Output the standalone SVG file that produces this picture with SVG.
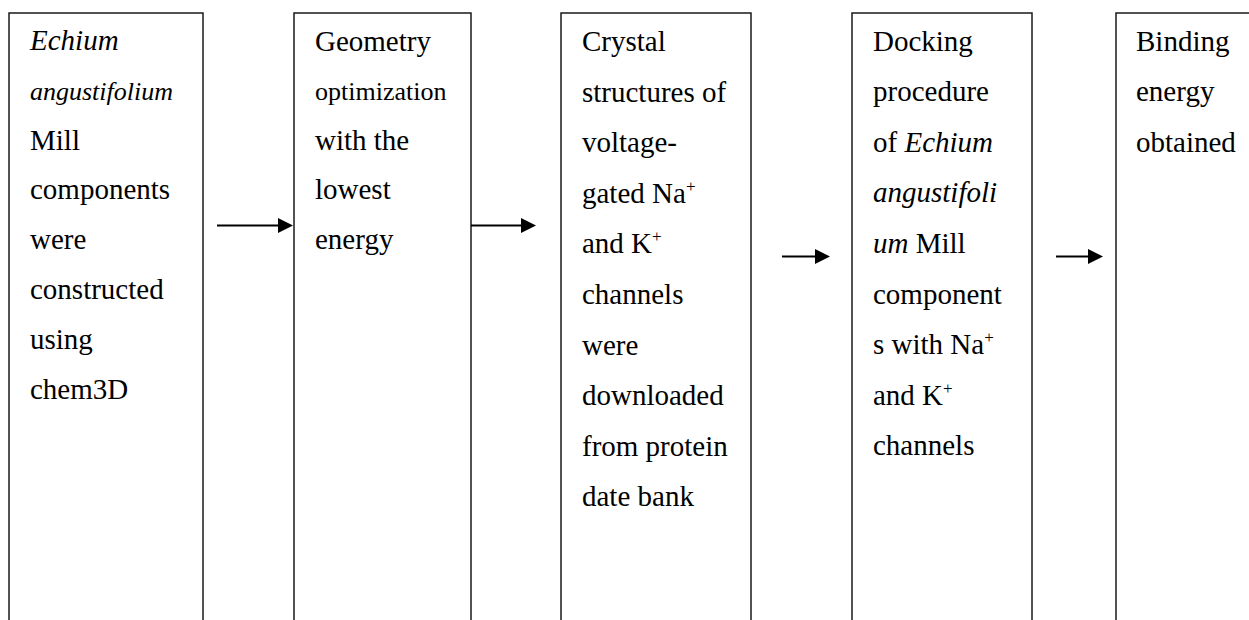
<svg xmlns="http://www.w3.org/2000/svg" width="1249" height="620" viewBox="0 0 1249 620">
  <style>
    .box { fill: #ffffff; stroke: #1a1a1a; stroke-width: 1.5; }
    .t { font-family: "Liberation Serif", "Times New Roman", serif; font-size: 29px; fill: #000000; }
    .small { font-size: 26px; }
    .i { font-style: italic; }
    .sup { font-size: 17px; }
    .conn { stroke: #000000; stroke-width: 2; fill: none; }
  </style>
  <defs>
    <marker id="arrow" markerUnits="userSpaceOnUse" markerWidth="16" markerHeight="16" refX="0" refY="7.5" orient="auto">
      <path d="M0,0 L15,7.5 L0,15 z" fill="#000000"/>
    </marker>
  </defs>
  <rect x="0" y="0" width="1249" height="620" fill="#ffffff"/>

  <g id="node1">
    <rect class="box" x="9" y="13" width="194" height="630"/>
    <text class="t" x="30">
      <tspan class="i" x="30" y="50">Echium</tspan>
      <tspan class="i small" x="30" y="99.8">angustifolium</tspan>
      <tspan x="30" y="149.6">Mill</tspan>
      <tspan x="30" y="199.4">components</tspan>
      <tspan x="30" y="249.2">were</tspan>
      <tspan x="30" y="299">constructed</tspan>
      <tspan x="30" y="348.8">using</tspan>
      <tspan x="30" y="398.6">chem3D</tspan>
    </text>
  </g>

  <g id="node2">
    <rect class="box" x="294" y="13" width="177" height="630"/>
    <text class="t" x="315">
      <tspan x="315" y="50.5">Geometry</tspan>
      <tspan class="small" x="315" y="100">optimization</tspan>
      <tspan x="315" y="149.5">with the</tspan>
      <tspan x="315" y="199">lowest</tspan>
      <tspan x="315" y="248.5">energy</tspan>
    </text>
  </g>

  <g id="node3">
    <rect class="box" x="561" y="13" width="190" height="630"/>
    <text class="t" x="582">
      <tspan x="582" y="51">Crystal</tspan>
      <tspan x="582" y="101.6">structures of</tspan>
      <tspan x="582" y="152.2">voltage-</tspan>
      <tspan x="582" y="202.8">gated Na</tspan><tspan class="sup" dy="-11">+</tspan>
      <tspan x="582" y="253.4">and K</tspan><tspan class="sup" dy="-11">+</tspan>
      <tspan x="582" y="304">channels</tspan>
      <tspan x="582" y="354.6">were</tspan>
      <tspan x="582" y="405.2">downloaded</tspan>
      <tspan x="582" y="455.8">from protein</tspan>
      <tspan x="582" y="506.4">date bank</tspan>
    </text>
  </g>

  <g id="node4">
    <rect class="box" x="852" y="13" width="180" height="630"/>
    <text class="t" x="873">
      <tspan x="873" y="50.5">Docking</tspan>
      <tspan x="873" y="101.1">procedure</tspan>
      <tspan x="873" y="151.7">of </tspan><tspan class="i">Echium</tspan>
      <tspan class="i" x="873" y="202.3">angustifoli</tspan>
      <tspan class="i" x="873" y="252.9">um</tspan><tspan> Mill</tspan>
      <tspan x="873" y="303.5">component</tspan>
      <tspan x="873" y="354.1">s with Na</tspan><tspan class="sup" dy="-11">+</tspan>
      <tspan x="873" y="404.7">and K</tspan><tspan class="sup" dy="-11">+</tspan>
      <tspan x="873" y="455.3">channels</tspan>
    </text>
  </g>

  <g id="node5">
    <rect class="box" x="1116" y="13" width="150" height="630"/>
    <text class="t" x="1136">
      <tspan x="1136" y="50.5">Binding</tspan>
      <tspan x="1136" y="101.1">energy</tspan>
      <tspan x="1136" y="151.7">obtained</tspan>
    </text>
  </g>

  <g id="connectors">
    <line class="conn" x1="217" y1="225.5" x2="278" y2="225.5" marker-end="url(#arrow)"/>
    <line class="conn" x1="471" y1="225.5" x2="521" y2="225.5" marker-end="url(#arrow)"/>
    <line class="conn" x1="782" y1="256.5" x2="815" y2="256.5" marker-end="url(#arrow)"/>
    <line class="conn" x1="1056" y1="256.5" x2="1088" y2="256.5" marker-end="url(#arrow)"/>
  </g>
</svg>
